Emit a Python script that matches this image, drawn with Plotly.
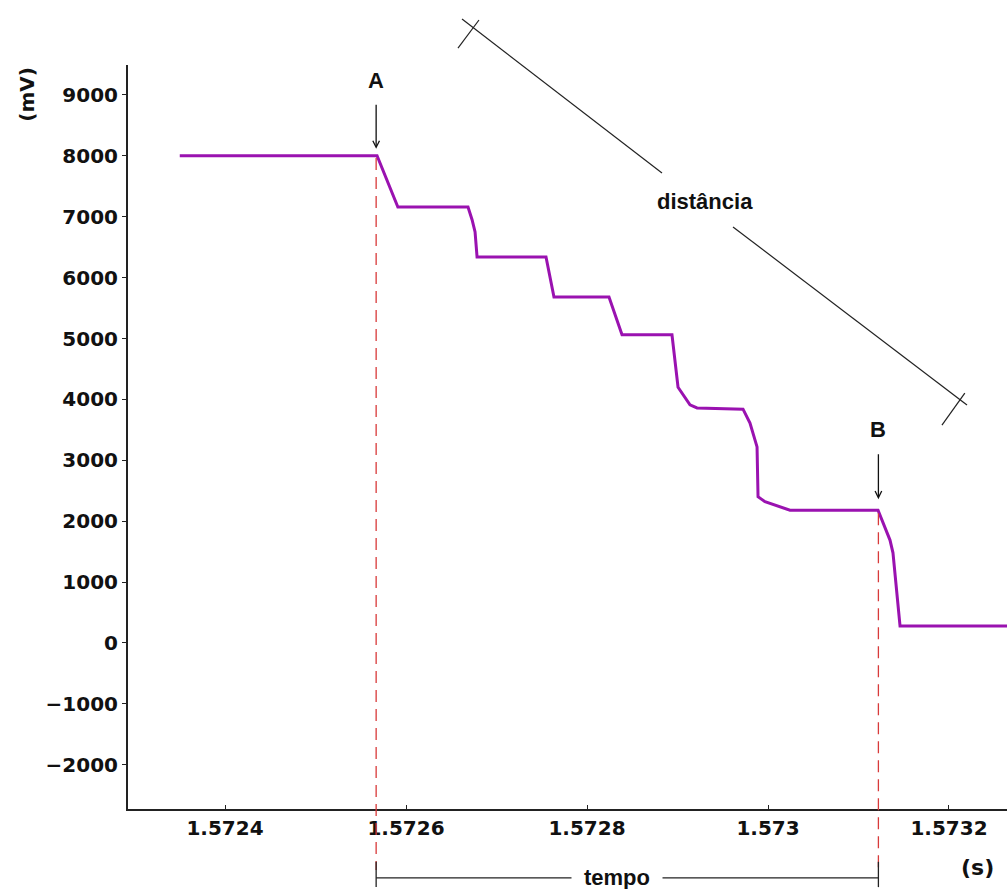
import numpy as np
import plotly.graph_objects as go

# traço: tempo (s) e tensão (mV)
tempo = [1.57235, 1.572568, 1.572591, 1.5726685, 1.572673, 1.5726763, 1.5726785,
         1.5727547, 1.5727635, 1.5728243, 1.5728387, 1.5728939, 1.5729006,
         1.5729138, 1.5729216, 1.5729724, 1.5729801, 1.5729879, 1.572989,
         1.5729967, 1.5730243, 1.5731216, 1.5731348, 1.5731381, 1.5731459, 1.5733]
tensao = [8000, 8000, 7160, 7160, 6950, 6750, 6340, 6340, 5680, 5680, 5060, 5060,
          4200, 3910, 3860, 3840, 3610, 3220, 2400, 2320, 2180, 2180, 1690, 1480, 280, 280]

marcas_t = [1.572567, 1.573122]
marcas_rot = ["A", "B"]

x_ticks = [1.5724, 1.5726, 1.5728, 1.573, 1.5732]
x_ticktext = ["1.5724", "1.5726", "1.5728", "1.573", "1.5732"]
y_ticks = [-2000, -1000, 0, 1000, 2000, 3000, 4000, 5000, 6000, 7000, 8000, 9000]

x_range = [1.5722928, 1.5732641]
y_range = [-2726, 9491]

BOLD = dict(family="DejaVu Sans", size=20, color="#111", weight="bold")
ARIAL = dict(family="Liberation Sans, Arial", size=22, color="#111", weight="bold")


def py(v):
    return (v - y_range[0]) / (y_range[1] - y_range[0])


fig = go.Figure()
fig.add_trace(go.Scatter(x=tempo, y=tensao, mode="lines",
                         line=dict(color="#9a12b0", width=3), hoverinfo="skip"))

marcas_v = np.interp(marcas_t, tempo, tensao)

shapes = []
annotations = []
for t, v, rot, ay, sso, so in zip(marcas_t, marcas_v, marcas_rot, [-75, -82], [10, 11], [7, 12]):
    # linha tracejada vermelha até abaixo do eixo
    shapes.append(dict(type="line", xref="x", yref="paper", x0=t, x1=t,
                       y0=py(v) - 0.003, y1=-0.082,
                       line=dict(color="#d83a3a", width=1.3, dash="12px,7px")))
    annotations.append(dict(x=t, y=v, xref="x", yref="y", text=rot, showarrow=True,
                            ax=0, ay=ay, arrowhead=5, arrowsize=1, arrowwidth=1.3,
                            arrowcolor="#111", startstandoff=sso, standoff=so,
                            font=ARIAL))

# colchete "tempo"
yb = -0.0927
shapes += [
    dict(type="line", xref="x", yref="paper", x0=marcas_t[0], x1=marcas_t[1], y0=yb, y1=yb,
         line=dict(color="#222", width=1.3)),
    dict(type="line", xref="x", yref="paper", x0=marcas_t[0], x1=marcas_t[0], y0=-0.071, y1=-0.105,
         line=dict(color="#222", width=1.3)),
    dict(type="line", xref="x", yref="paper", x0=marcas_t[1], x1=marcas_t[1], y0=-0.071, y1=-0.105,
         line=dict(color="#222", width=1.3)),
]
annotations.append(dict(x=1.572833, y=yb, xref="x", yref="paper", text="tempo",
                        xanchor="center", yanchor="middle",
                        showarrow=False, bgcolor="white", borderpad=12, font=ARIAL))

# régua "distância"
for x0, y0, x1, y1 in [(0.380, 1.0618, 0.6075, 0.8548), (0.6883, 0.7823, 0.9545, 0.543),
                       (0.3754, 1.0228, 0.3993, 1.0605), (0.926, 0.516, 0.952, 0.559)]:
    shapes.append(dict(type="line", xref="paper", yref="paper", x0=x0, y0=y0, x1=x1, y1=y1,
                       line=dict(color="#222", width=1.2)))
annotations.append(dict(x=0.6564, y=0.8172, xref="paper", yref="paper", text="distância",
                        xanchor="center", yanchor="middle", showarrow=False, font=ARIAL))

# unidades
annotations.append(dict(x=-0.1149, y=0.96, xref="paper", yref="paper", text="(mV)",
                        xanchor="center", yanchor="middle",
                        textangle=-90, showarrow=False, font=BOLD))
annotations.append(dict(x=0.966, y=-0.079, xref="paper", yref="paper", text="(s)",
                        xanchor="center", yanchor="middle",
                        showarrow=False, font=dict(BOLD, size=22)))

fig.update_layout(
    width=1007, height=889,
    margin=dict(l=128, r=0, t=65, b=80),
    plot_bgcolor="white", paper_bgcolor="white",
    showlegend=False,
    shapes=shapes, annotations=annotations,
    xaxis=dict(range=x_range, tickvals=x_ticks, ticktext=x_ticktext, showgrid=False,
               zeroline=False, showline=True, linecolor="#222", linewidth=2,
               ticks="inside", ticklen=4, tickcolor="#222", tickfont=BOLD),
    yaxis=dict(range=y_range, tickvals=y_ticks, showgrid=False, zeroline=False,
               showline=True, linecolor="#222", linewidth=2, ticks="outside",
               ticklen=4, tickcolor="#222", tickfont=BOLD, tickformat="d"),
)

# tira a margem padrão do body para a figura ocupar a janela inteira
fig.write_html("out.html", config={"displayModeBar": False},
               post_script="document.body.style.margin='0';")
